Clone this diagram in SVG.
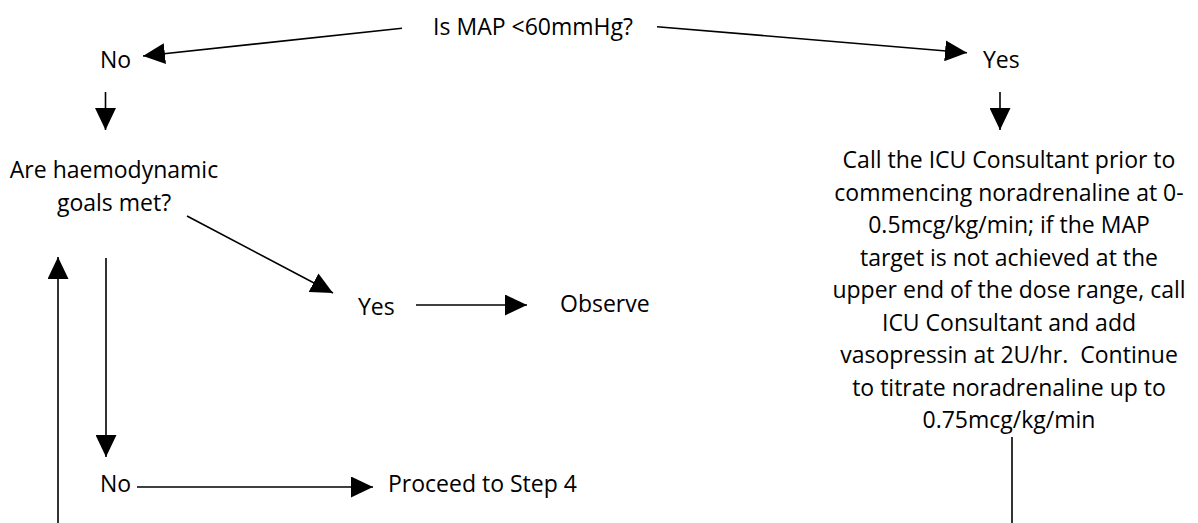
<svg xmlns="http://www.w3.org/2000/svg" width="1198" height="523" viewBox="0 0 1198 523">
  <style>
    text { font-family: "Open Sans", "Noto Sans", "Liberation Sans", sans-serif; font-size: 23px; fill: #000; }
    .mid { text-anchor: middle; }
    .conn line { stroke: #000; stroke-width: 1.6; fill: none; }
    .arrow { marker-end: url(#head); }
  </style>
  <defs>
    <marker id="head" viewBox="0 0 22 21" refX="22" refY="10.5" markerWidth="22" markerHeight="21" markerUnits="userSpaceOnUse" orient="auto">
      <path d="M0,0 L22,10.5 L0,21 Z" fill="#000"/>
    </marker>
  </defs>
  <rect width="1198" height="523" fill="#fff"/>

  <g id="q-map">
    <text x="533" y="35" class="mid">Is MAP &lt;60mmHg?</text>
  </g>
  <g id="map-no">
    <text x="100" y="68">No</text>
  </g>
  <g id="map-yes">
    <text x="983" y="68">Yes</text>
  </g>
  <g id="q-goals">
    <text x="114" y="178" class="mid">Are haemodynamic</text>
    <text x="114" y="210.5" class="mid">goals met?</text>
  </g>
  <g id="goals-yes">
    <text x="358" y="315">Yes</text>
  </g>
  <g id="observe">
    <text x="560" y="312">Observe</text>
  </g>
  <g id="goals-no">
    <text x="100" y="492">No</text>
  </g>
  <g id="step4">
    <text x="388" y="492">Proceed to Step 4</text>
  </g>
  <g id="vasopressors">
    <text x="1009" y="168" class="mid">Call the ICU Consultant prior to</text>
    <text x="1009" y="200.5" class="mid">commencing noradrenaline at 0-</text>
    <text x="1009" y="233" class="mid">0.5mcg/kg/min; if the MAP</text>
    <text x="1009" y="265.5" class="mid">target is not achieved at the</text>
    <text x="1009" y="298" class="mid">upper end of the dose range, call</text>
    <text x="1009" y="330.5" class="mid">ICU Consultant and add</text>
    <text x="1009" y="363" class="mid" xml:space="preserve">vasopressin at 2U/hr.  Continue</text>
    <text x="1009" y="395.5" class="mid">to titrate noradrenaline up to</text>
    <text x="1009" y="428" class="mid">0.75mcg/kg/min</text>
  </g>

  <g id="connectors" class="conn">
    <line class="arrow" x1="402" y1="28.3" x2="143" y2="56"/>
    <line class="arrow" x1="657" y1="26.7" x2="967" y2="52.7"/>
    <line class="arrow" x1="105.5" y1="92" x2="105.5" y2="130"/>
    <line class="arrow" x1="1000" y1="92" x2="1000" y2="130"/>
    <line class="arrow" x1="187" y1="216" x2="333" y2="293"/>
    <line class="arrow" x1="106" y1="258" x2="106" y2="457"/>
    <line class="arrow" x1="58" y1="523" x2="58" y2="257"/>
    <line class="arrow" x1="416" y1="305" x2="527" y2="305"/>
    <line class="arrow" x1="137" y1="487" x2="373" y2="487"/>
    <line x1="1012" y1="437" x2="1012" y2="523"/>
  </g>
</svg>
